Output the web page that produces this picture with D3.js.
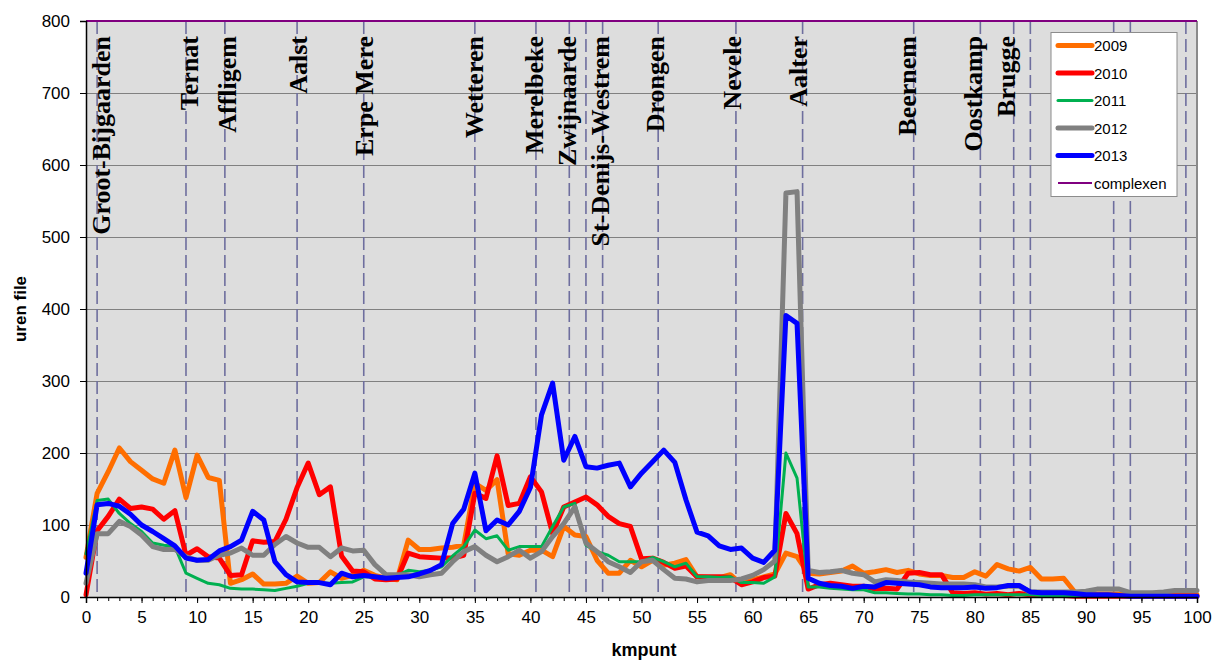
<!DOCTYPE html>
<html>
<head>
<meta charset="utf-8">
<script src="https://cdn.jsdelivr.net/npm/d3@7"></script>
<style>
  body { margin: 0; background: #fff; }
  svg { display: block; }
</style>
</head>
<body>
<svg id="chart" width="1212" height="660"></svg>
<script>
// kilometre points along the route (one measurement per km)
const kmPoints = d3.range(0, 101);

// hours of traffic jam per km point, per year
const v2009 = [55,144,174,207,188,176,164,158,204,138,197,166,162,19,24,32,18,18,19,29,
  19,20,35,26,30,37,30,26,24,79,66,66,68,69,72,158,148,163,60,58,
  65,65,56,98,86,84,51,33,33,51,42,51,44,47,52,28,27,27,31,18,
  24,28,32,61,56,33,32,34,36,43,33,35,38,34,37,32,30,30,27,27,
  35,29,45,39,36,41,25,25,26,7,4,4,4,4,5,4,4,4,3,3,3];
const v2010 = [3,92,112,136,123,125,122,108,120,58,67,56,54,30,31,78,76,77,108,152,
  186,142,153,57,36,35,25,24,25,61,56,55,54,54,58,144,137,196,127,130,
  167,146,88,125,132,139,128,112,102,98,53,54,48,40,43,28,28,28,27,17,
  21,27,29,116,88,11,17,19,17,15,15,11,12,11,33,34,31,31,6,5,
  6,4,5,3,5,3,2,2,2,1,1,1,1,1,1,1,1,1,1,1,1];
const v2011 = [60,134,136,116,102,91,75,72,70,33,26,19,17,12,11,11,10,9,12,15,
  19,19,19,20,21,28,28,28,30,37,35,37,42,57,70,93,81,85,65,70,
  70,70,98,125,130,72,63,58,49,49,49,55,49,42,47,28,28,27,28,20,
  20,19,28,200,165,14,14,12,11,10,10,6,6,5,4,4,3,3,2,2,
  3,3,3,3,3,3,2,2,2,2,2,2,2,2,2,2,2,2,2,2,2];
const v2012 = [19,88,88,105,98,86,70,66,66,56,51,51,58,61,68,58,58,73,84,75,
  69,69,56,68,64,65,45,31,31,31,28,31,33,49,63,70,58,49,56,65,
  54,63,84,102,125,75,63,49,42,34,49,51,38,26,25,21,23,23,23,25,
  30,38,50,561,563,37,34,35,37,33,31,21,24,23,21,20,19,18,18,18,
  17,14,14,15,15,7,7,7,7,7,8,11,11,11,6,6,6,7,9,9,9];
const v2013 = [33,128,130,126,115,100,91,81,71,54,51,52,64,70,79,119,107,49,31,21,
  20,20,17,33,28,30,28,26,27,28,32,37,45,102,122,172,92,107,100,119,
  152,253,297,190,223,181,179,183,186,153,172,188,204,187,135,90,85,71,66,68,
  54,48,65,391,380,26,19,16,15,12,15,14,20,19,18,17,14,13,13,13,
  14,12,13,16,16,7,6,6,6,5,3,3,3,2,1,1,1,1,1,1,1];

// road complexes: constant reference level across the whole route
const complexenKm = [0, 100];
const complexenVal = [800, 800];

const seriesNames = ["2009", "2010", "2011", "2012", "2013"];
const seriesValues = [v2009, v2010, v2011, v2012, v2013];
const seriesColors = ["#FF6E00", "#FF0000", "#00B050", "#808080", "#0000FF"];
const seriesWidths = [5, 5, 3, 5, 5];

// places along the route (km of the marker line)
const placeNames = ["Groot-Bijgaarden","Ternat","Affligem","Aalst","Erpe Mere","Wetteren",
  "Merelbeke","Zwijnaarde","St-Denijs-Westrem","Drongen","Nevele","Aalter",
  "Beernem","Oostkamp","Brugge"];
const placeKm = [1, 9, 12.5, 19, 25, 35, 40.5, 43.5, 46.5, 51.5, 58.5, 64.5, 74.5, 80.5, 83.5];
// further marker lines without a name
const extraMarkerKm = [45, 85, 92.5, 94, 99];

const yTicks = [0, 100, 200, 300, 400, 500, 600, 700, 800];
const xTicks = d3.range(0, 101, 5);

const svg = d3.select("#chart");
const plotLeft = 86, plotRight = 1197, plotTop = 21, plotBottom = 597;

const x = d3.scaleLinear().domain([0, 100]).range([plotLeft, plotRight]);
const y = d3.scaleLinear().domain([0, 800]).range([plotBottom, plotTop]);
// name labels sit on a slightly narrower span than the marker lines
const xLabel = d3.scaleLinear().domain([0, 100]).range([plotLeft + 13, plotRight - 1]);

// plot background
svg.append("rect")
  .attr("x", plotLeft).attr("y", plotTop)
  .attr("width", plotRight - plotLeft).attr("height", plotBottom - plotTop)
  .attr("fill", "#DDDDDD");

// horizontal gridlines
svg.append("g").selectAll("line")
  .data(yTicks.filter(d => d > 0 && d < 800))
  .join("line")
  .attr("x1", plotLeft).attr("x2", plotRight)
  .attr("y1", d => y(d) + 0.5).attr("y2", d => y(d) + 0.5)
  .attr("stroke", "#808080").attr("stroke-width", 1);

// right border
svg.append("line")
  .attr("x1", plotRight).attr("x2", plotRight)
  .attr("y1", plotTop).attr("y2", plotBottom)
  .attr("stroke", "#8A8A8A").attr("stroke-width", 2);

// dashed marker lines
const markerKm = placeKm.concat(extraMarkerKm);
svg.append("g").selectAll("line")
  .data(markerKm)
  .join("line")
  .attr("x1", d => x(d)).attr("x2", d => x(d))
  .attr("y1", plotTop).attr("y2", plotBottom)
  .attr("stroke", "#6E6E9E").attr("stroke-width", 1.6)
  .attr("stroke-dasharray", "13,5");

// place names, rotated
svg.append("g").selectAll("text")
  .data(placeNames)
  .join("text")
  .attr("transform", (d, i) => `translate(${xLabel(placeKm[i])},36) rotate(-90)`)
  .attr("text-anchor", "end")
  .attr("font-family", "'Liberation Serif','Times New Roman',serif")
  .attr("font-weight", "bold")
  .attr("font-size", 26)
  .attr("fill", "#000")
  .text(d => d);

// series lines
const line = d3.line()
  .x((d, i) => x(kmPoints[i]))
  .y(d => y(d));

svg.append("g").selectAll("path")
  .data(seriesValues)
  .join("path")
  .attr("d", d => line(d))
  .attr("fill", "none")
  .attr("stroke", (d, i) => seriesColors[i])
  .attr("stroke-width", (d, i) => seriesWidths[i])
  .attr("stroke-linejoin", "round")
  .attr("stroke-linecap", "round");

// complexen line
svg.append("path")
  .attr("d", d3.line().x((d, i) => x(complexenKm[i])).y(d => y(d))(complexenVal))
  .attr("fill", "none")
  .attr("stroke", "#800080")
  .attr("stroke-width", 2);

// axes
const yAxis = d3.axisLeft(y).tickValues(yTicks).tickSize(6).tickPadding(10);
const gy = svg.append("g").attr("transform", `translate(${plotLeft},0)`).call(yAxis);
gy.select(".domain").attr("stroke", "#000").attr("stroke-width", 1.5);
gy.selectAll(".tick line").attr("stroke", "#000");
gy.selectAll("text")
  .attr("font-family", "'Liberation Sans',Arial,sans-serif")
  .attr("font-size", 17).attr("fill", "#000");

const xAxisMinor = d3.axisBottom(x).tickValues(kmPoints).tickSize(4).tickFormat("");
const gxm = svg.append("g").attr("transform", `translate(0,${plotBottom})`).call(xAxisMinor);
gxm.select(".domain").remove();
gxm.selectAll(".tick line").attr("stroke", "#000");

const xAxis = d3.axisBottom(x).tickValues(xTicks).tickSize(6).tickPadding(8);
const gx = svg.append("g").attr("transform", `translate(0,${plotBottom})`).call(xAxis);
gx.select(".domain").attr("stroke", "#000").attr("stroke-width", 1.5);
gx.selectAll(".tick line").attr("stroke", "#000");
gx.selectAll("text")
  .attr("font-family", "'Liberation Sans',Arial,sans-serif")
  .attr("font-size", 17).attr("fill", "#000");

// axis titles
svg.append("text")
  .attr("transform", `translate(26,${(plotTop + plotBottom) / 2}) rotate(-90)`)
  .attr("text-anchor", "middle")
  .attr("font-family", "'Liberation Sans',Arial,sans-serif")
  .attr("font-weight", "bold").attr("font-size", 17)
  .text("uren file");

svg.append("text")
  .attr("x", 644).attr("y", 656)
  .attr("text-anchor", "middle")
  .attr("font-family", "'Liberation Sans',Arial,sans-serif")
  .attr("font-weight", "bold").attr("font-size", 18)
  .text("kmpunt");

// legend
const legendItems = seriesNames.map((n, i) => ({ name: n, color: seriesColors[i], width: seriesWidths[i] }))
  .concat([{ name: "complexen", color: "#800080", width: 2 }]);
const legend = svg.append("g");
legend.append("rect")
  .attr("x", 1051).attr("y", 32.5).attr("width", 126).attr("height", 164)
  .attr("fill", "#fff").attr("stroke", "#8C8C8C").attr("stroke-width", 1);
const rows = legend.selectAll("g.row")
  .data(legendItems)
  .join("g").attr("class", "row")
  .attr("transform", (d, i) => `translate(0,${45.5 + i * 27.5})`);
rows.append("line")
  .attr("x1", 1058).attr("x2", 1092)
  .attr("stroke", d => d.color).attr("stroke-width", d => d.width)
  .attr("stroke-linecap", d => d.name === "complexen" ? "butt" : "round");
rows.append("text")
  .attr("x", 1094).attr("y", 5.5)
  .attr("font-family", "'Liberation Sans',Arial,sans-serif")
  .attr("font-size", 15).attr("fill", "#000")
  .text(d => d.name);
</script>
</body>
</html>
